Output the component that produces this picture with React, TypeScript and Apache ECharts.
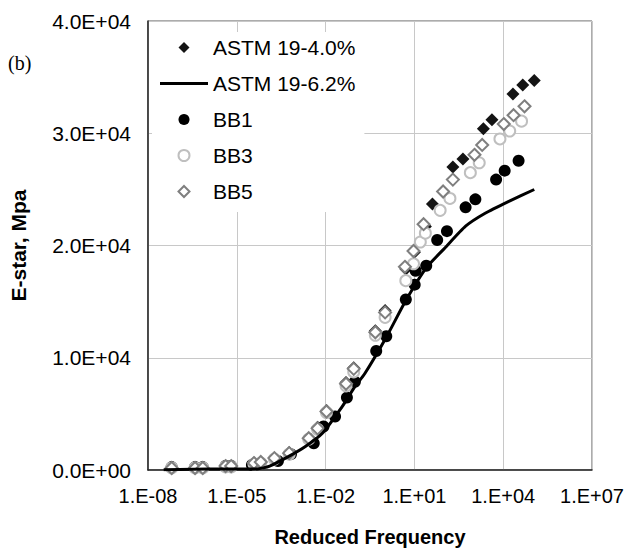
import React, { useEffect, useRef } from "react";
import * as echarts from "echarts";

// Reduced frequency given as log10 exponent; E* in MPa
const logFreqAstm40 = [-7.2, -6.41, -6.15, -5.38, -5.19, -4.42, -4.19, -3.73, -3.23, -2.5, -2.27, -1.97, -1.31, -1.05, -0.32, 0.01, 0.71, 1.0, 1.37, 1.61, 2.3, 2.64, 3.33, 3.62, 4.33, 4.66, 5.05];
const eAstm40 = [180, 180, 180, 350, 350, 620, 710, 1060, 1550, 2750, 3800, 5300, 7800, 9100, 12400, 14200, 17900, 19400, 21700, 23700, 27000, 27700, 30400, 31200, 33500, 34300, 34700];

const logFreqAstm62 = [-7.47, -5.98, -4.32, -3.89, -3.23, -2.67, -2.11, -1.44, -1.01, -0.68, 0.05, 0.71, 1.4, 2.03, 2.73, 3.39, 4.19, 5.05];
const eAstm62 = [20, 90, 90, 350, 1240, 2120, 3270, 5650, 7420, 8570, 11830, 15100, 18010, 19780, 21720, 22870, 23930, 24990];

const logFreqBB1 = [-7.2, -6.41, -6.15, -5.38, -5.19, -4.49, -4.22, -3.61, -3.17, -2.4, -2.07, -1.68, -1.28, -1.01, -0.29, 0.05, 0.71, 1.01, 1.04, 1.4, 1.77, 2.1, 2.73, 3.06, 3.76, 4.05, 4.52];
const eBB1 = [260, 260, 260, 350, 350, 440, 530, 800, 1410, 2380, 3880, 4770, 6450, 7860, 10600, 11920, 15190, 16510, 17750, 18190, 20490, 21280, 23400, 24110, 25870, 26670, 27550];

const logFreqBB3 = [-7.2, -6.41, -6.15, -5.38, -5.19, -4.42, -4.19, -3.73, -3.23, -2.57, -2.27, -1.97, -1.31, -1.05, -0.32, 0.01, 0.71, 0.97, 1.2, 1.37, 1.87, 2.2, 2.89, 3.19, 3.89, 4.22, 4.62];
const eBB3 = [180, 180, 180, 270, 270, 530, 620, 970, 1410, 2740, 3620, 5120, 7500, 8740, 12000, 13600, 16870, 18370, 20310, 21100, 23130, 24190, 26490, 27370, 29490, 30200, 31080];

const logFreqBB5 = [-7.2, -6.41, -6.15, -5.38, -5.19, -4.42, -4.19, -3.73, -3.23, -2.57, -2.27, -1.97, -1.31, -1.05, -0.32, 0.01, 0.68, 0.97, 1.31, 1.97, 2.3, 3.03, 3.29, 4.02, 4.35, 4.72];
const eBB5 = [180, 180, 180, 350, 350, 620, 710, 1060, 1500, 2830, 3710, 5210, 7680, 9010, 12270, 14040, 18100, 19510, 21900, 24810, 25870, 28080, 28960, 30820, 31610, 32400];

const X_MIN_EXP = -8;
const X_MAX_EXP = 7;
const X_STEP = 3;
const Y_MIN = 0;
const Y_MAX = 40000;
const Y_STEP = 10000;

const seriesNames = ["ASTM 19-4.0%", "ASTM 19-6.2%", "BB1", "BB3", "BB5"];

const FONT = '"Liberation Sans", Arial, sans-serif';
const DIAMOND_ICON = "path://M5,0L10,5L5,10L0,5Z";
const LINE_ICON = "path://M0,0H48V3H0Z";

const pair = (xs: number[], ys: number[]) => xs.map((x, i) => [x - X_MIN_EXP, ys[i]]);

const fmtX = (v: number) => {
  const e = Math.round(v + X_MIN_EXP);
  const s = e < 0 ? "-" : "+";
  return `1.E${s}${String(Math.abs(e)).padStart(2, "0")}`;
};
const fmtY = (v: number) => {
  if (v === 0) return "0.0E+00";
  const e = Math.floor(Math.log10(v) + 1e-9);
  const m = v / Math.pow(10, e);
  return `${m.toFixed(1)}E+${String(e).padStart(2, "0")}`;
};

export default function App() {
  const ref = useRef<HTMLDivElement>(null);
  useEffect(() => {
    if (!ref.current) return;
    const chart = echarts.init(ref.current, null, { renderer: "svg" });
    chart.setOption({
      animation: false,
      backgroundColor: "#fff",
      grid: {
        left: 139, right: 36, top: 21, bottom: 78,
        show: true, borderColor: "#595959", borderWidth: 1, backgroundColor: "transparent",
      },
      graphic: [
        { type: "text", left: 8, top: 53, style: { text: "(b)", font: '20px "Liberation Serif", "Times New Roman", serif', fill: "#000" } },
      ],
      legend: {
        orient: "vertical", left: 152, top: 32, padding: [5, 9, 10, 8],
        itemGap: 15, itemWidth: 48, itemHeight: 11, symbolKeepAspect: true,
        backgroundColor: "#fff",
        textStyle: { fontFamily: FONT, fontSize: 21, color: "#000" },
        data: [
          { name: seriesNames[0], icon: DIAMOND_ICON },
          { name: seriesNames[1], icon: LINE_ICON },
          { name: seriesNames[2], icon: "circle" },
          { name: seriesNames[3], icon: "circle" },
          { name: seriesNames[4], icon: DIAMOND_ICON },
        ],
      },
      xAxis: {
        type: "value", min: 0, max: X_MAX_EXP - X_MIN_EXP, interval: X_STEP,
        name: "Reduced Frequency", nameLocation: "middle", nameGap: 57,
        nameTextStyle: { fontFamily: FONT, fontSize: 20, fontWeight: "bold", color: "#000" },
        axisLine: { lineStyle: { color: "#262626", width: 1.5 } },
        axisTick: { show: false },
        axisLabel: { formatter: fmtX, fontFamily: FONT, fontSize: 20, color: "#000", margin: 16 },
        splitLine: { show: true, lineStyle: { color: "#c8c8c8", width: 1 } },
      },
      yAxis: {
        type: "value", min: Y_MIN, max: Y_MAX, interval: Y_STEP,
        name: "E-star, Mpa", nameLocation: "middle", nameGap: 119,
        nameTextStyle: { fontFamily: FONT, fontSize: 21, fontWeight: "bold", color: "#000" },
        axisLine: { show: true, lineStyle: { color: "#262626", width: 1.5 } },
        axisTick: { show: false },
        axisLabel: { formatter: fmtY, fontFamily: FONT, fontSize: 21, color: "#000", margin: 17 },
        splitLine: { show: true, lineStyle: { color: "#c8c8c8", width: 1 } },
      },
      series: [
        {
          name: seriesNames[0], type: "scatter", symbol: "diamond", symbolSize: 13,
          itemStyle: { color: "#141414", opacity: 1 }, data: pair(logFreqAstm40, eAstm40),
        },
        {
          name: seriesNames[1], type: "line", symbol: "none", smooth: 0.2,
          lineStyle: { color: "#000", width: 3 }, itemStyle: { color: "#000" },
          data: pair(logFreqAstm62, eAstm62),
        },
        {
          name: seriesNames[2], type: "scatter", symbol: "circle", symbolSize: 12,
          itemStyle: { color: "#000", opacity: 1 }, data: pair(logFreqBB1, eBB1),
        },
        {
          name: seriesNames[3], type: "scatter", symbol: "circle", symbolSize: 11,
          itemStyle: { color: "#fff", borderColor: "#bfbfbf", borderWidth: 2, opacity: 1 }, data: pair(logFreqBB3, eBB3),
        },
        {
          name: seriesNames[4], type: "scatter", symbol: "diamond", symbolSize: 12,
          itemStyle: { color: "#fff", borderColor: "#7f7f7f", borderWidth: 2, opacity: 1 }, data: pair(logFreqBB5, eBB5),
        },
      ],
    });
    return () => chart.dispose();
  }, []);
  return <div ref={ref} style={{ position: "fixed", left: 0, top: 0, width: 628, height: 552 }} />;
}
